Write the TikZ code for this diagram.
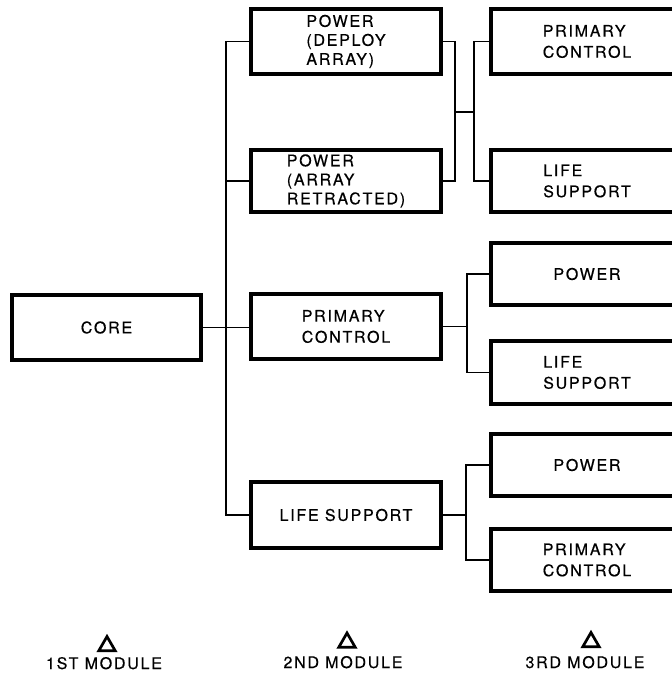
\documentclass[tikz,border=0pt]{standalone}
\usepackage{fontspec}
\setmainfont{TeX Gyre Heros}[LetterSpace=11,FakeBold=0.5]
\usetikzlibrary{shapes.geometric}
\begin{document}
\begin{tikzpicture}[x=1pt,y=-1pt,
  box/.style={draw, line width=3.3pt, inner sep=0pt, align=left,
    font=\fontsize{16}{21}\selectfont},
  tight/.style={font=\fontsize{16}{19}\selectfont},
  colone/.style={box, minimum width=189pt, minimum height=65pt},
  coltwo/.style={box, minimum width=190pt},
  colthree/.style={box, minimum width=192pt},
  conn/.style={line width=1.9pt},
  tri/.style={draw, regular polygon, regular polygon sides=3, minimum size=19pt,
    inner sep=0pt, line width=2.7pt},
  lbl/.style={font=\fontsize{16}{19}\selectfont, inner sep=0pt, anchor=base}]
\useasboundingbox (0,0) rectangle (672,673);
\fill[white] (0,0) rectangle (672,673);
\clip (0,0) rectangle (672,673);
% column 1
\node[colone] (core) at (106.5,327.5) {CORE};
% column 2
\node[coltwo, tight, minimum height=65pt] (p1) at (346,41.5) {POWER\\(DEPLOY\\ARRAY)};
\node[coltwo, tight, minimum height=62pt] (p2) at (346,181) {POWER\\(ARRAY\\RETRACTED)};
\node[coltwo, minimum height=65pt] (pc) at (346,326.5) {PRIMARY\\CONTROL};
\node[coltwo, minimum height=66pt] (ls) at (346,515) {LIFE SUPPORT};
% column 3
\node[colthree, minimum height=65pt] (a) at (587,41.5) {PRIMARY\\CONTROL};
\node[colthree, minimum height=62pt] (b) at (587,181) {LIFE\\SUPPORT};
\node[colthree, minimum height=62pt] (c) at (587,274) {POWER};
\node[colthree, minimum height=63pt] (d) at (587,372.5) {LIFE\\SUPPORT};
\node[colthree, minimum height=62pt] (e) at (587,465) {POWER};
\node[colthree, minimum height=62pt] (f) at (587,560) {PRIMARY\\CONTROL};
% junction coordinates
\coordinate (trunk) at (226,0);
\coordinate (j1) at (455,0);
\coordinate (m1) at (455,112);
\coordinate (m1b) at (474,112);
\coordinate (j3) at (467,0);
\coordinate (j4) at (466,0);
% connectors core -> column 2
\draw[conn] (core.east) -- (core.east -| pc.west);
\draw[conn] (p1.west) -- (p1.west -| trunk) -- (ls.west -| trunk) -- (ls.west);
\draw[conn] (p2.west) -- (p2.west -| trunk);
% top group
\draw[conn] (p1.east) -- (p1.east -| j1) -- (p2.east -| j1) -- (p2.east);
\draw[conn] (m1) -- (m1b);
\draw[conn] (a.west) -- (a.west -| m1b) -- (b.west -| m1b) -- (b.west);
% middle group
\draw[conn] (pc.east) -- (pc.east -| j3);
\draw[conn] (c.west) -- (c.west -| j3) -- (d.west -| j3) -- (d.west);
% bottom group
\draw[conn] (ls.east) -- (ls.east -| j4);
\draw[conn] (e.west) -- (e.west -| j4) -- (f.west -| j4) -- (f.west);
% module labels
\node[tri] (t1) at (107,646) {};
\node[tri] (t2) at (347,642.5) {};
\node[tri] (t3) at (591,642) {};
\node[lbl] (l1) at (104,669) {1ST MODULE};
\node[lbl] (l2) at (343,668) {2ND MODULE};
\node[lbl] (l3) at (585,668) {3RD MODULE};
\end{tikzpicture}
\end{document}
